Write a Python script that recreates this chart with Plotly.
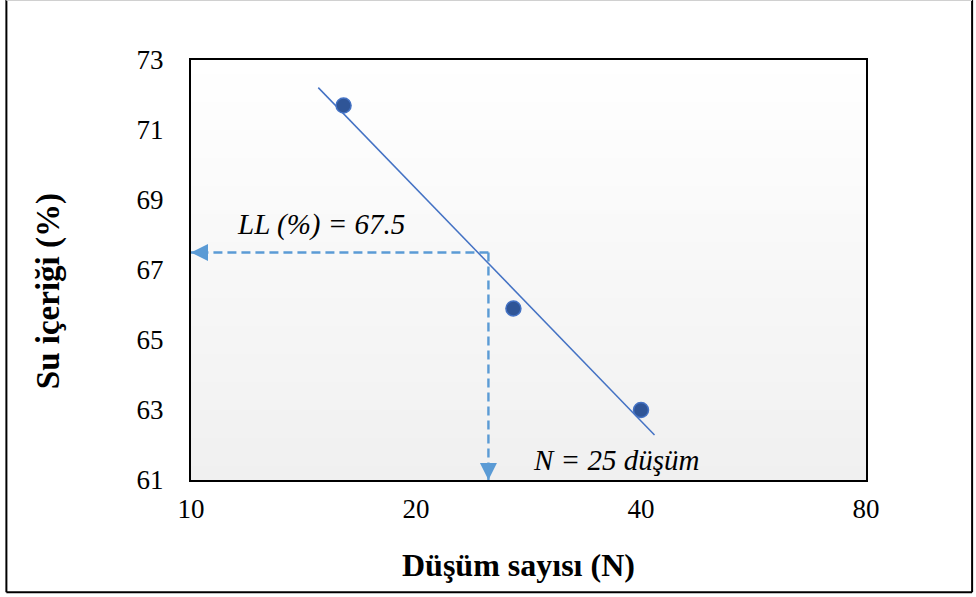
import numpy as np
import plotly.graph_objects as go

# Drop count (N) vs. water content (%) from the liquid limit test
drops = [16, 27, 40]
water_content = [71.7, 65.9, 63.0]

# Extent of the fitted (log-linear) trend line
trend_span = [14.8, 41.7]

# Liquid limit read at N = 25
ll_drops = 25
ll_value = 67.5

x_ticks = [10, 20, 40, 80]
y_ticks = [61, 63, 65, 67, 69, 71, 73]

serif = "Liberation Serif, Times New Roman, serif"
line_blue = "#4472c4"
dash_blue = "#5b9bd5"

# least-squares fit of water content against log10(N)
slope, intercept = np.polyfit(np.log10(drops), water_content, 1)
trend_x = np.array(trend_span)
trend_y = slope * np.log10(trend_x) + intercept

fig = go.Figure()

# dashed guide lines from the liquid limit point to the axes
fig.add_trace(go.Scatter(
    x=[ll_drops, x_ticks[0]], y=[ll_value, ll_value], mode="lines",
    line=dict(color=dash_blue, width=2.4, dash="9px,5px"), hoverinfo="skip",
    showlegend=False))
fig.add_trace(go.Scatter(
    x=[ll_drops, ll_drops], y=[ll_value, y_ticks[0]], mode="lines",
    line=dict(color=dash_blue, width=2.4, dash="9px,5px"), hoverinfo="skip",
    showlegend=False))

# trend line
fig.add_trace(go.Scatter(
    x=trend_x, y=trend_y, mode="lines",
    line=dict(color=line_blue, width=1.5), showlegend=False))

# measured points
fig.add_trace(go.Scatter(
    x=drops, y=water_content, mode="markers",
    marker=dict(size=15, color="#2f5597", line=dict(color=line_blue, width=1.5)),
    showlegend=False))

# soft vertical gradient behind the plot area
shapes = []
n_strips = 60
for i in range(n_strips):
    t = (i + 0.5) / n_strips
    g = int(round(240 + 15 * t))
    shapes.append(dict(
        type="rect", xref="x domain", yref="y domain",
        x0=0, x1=1, y0=i / n_strips, y1=(i + 1) / n_strips,
        fillcolor=f"rgb({g},{g},{g})", line=dict(width=0), layer="below"))

# outer chart frame
fx0, fx1, fy0, fy1 = -0.2735, 1.1572, -0.267, 1.143
for (x0, y0, x1, y1, c) in [
    (fx0, fy0, fx0, fy1, "black"),
    (fx1, fy0, fx1, fy1, "black"),
    (fx0, fy0, fx1, fy0, "black"),
    (fx0, fy1, fx1, fy1, "#d0d0d0"),
]:
    shapes.append(dict(type="line", xref="paper", yref="paper",
                       x0=x0, y0=y0, x1=x1, y1=y1,
                       line=dict(color=c, width=2)))

annotations = [
    # arrowheads at the axis ends of the guide lines
    dict(x=np.log10(x_ticks[0]), y=ll_value, xref="x", yref="y", text="",
         showarrow=True, ax=18, ay=0, arrowhead=2, arrowsize=1.7,
         arrowwidth=2, arrowcolor=dash_blue, standoff=0),
    dict(x=np.log10(ll_drops), y=y_ticks[0], xref="x", yref="y", text="",
         showarrow=True, ax=0, ay=-18, arrowhead=2, arrowsize=1.7,
         arrowwidth=2, arrowcolor=dash_blue, standoff=0),
    dict(x=1.1734, y=68.29, xref="x", yref="y", showarrow=False,
         xanchor="center", yanchor="middle",
         text=f"<i>LL (%) = {ll_value}</i>",
         font=dict(family=serif, size=29, color="black")),
    dict(x=1.5683, y=61.57, xref="x", yref="y", showarrow=False,
         xanchor="center", yanchor="middle",
         text=f"<i>N = {ll_drops} düşüm</i>",
         font=dict(family=serif, size=29, color="black")),
    # axis titles
    dict(x=0.4848, y=-0.2026, xref="paper", yref="paper", showarrow=False,
         xanchor="center", yanchor="middle",
         text="<b>Düşüm sayısı (N)</b>",
         font=dict(family=serif, size=32, color="black")),
    dict(x=-0.2113, y=0.4505, xref="paper", yref="paper", showarrow=False,
         xanchor="center", yanchor="middle",
         text="<b>Su içeriği (%)</b>", textangle=-90,
         font=dict(family=serif, size=33, color="black")),
]

fig.update_layout(
    width=976, height=597,
    margin=dict(l=191, r=110, t=60, b=117),
    paper_bgcolor="white", plot_bgcolor="white",
    shapes=shapes, annotations=annotations,
    font=dict(family=serif, size=27, color="black"),
    xaxis=dict(type="log", range=[np.log10(10), np.log10(80)],
               tickvals=x_ticks, ticktext=[str(v) for v in x_ticks],
               showgrid=False, zeroline=False, showline=True, mirror=True,
               linecolor="black", linewidth=2, ticks="", ticklabelstandoff=4),
    yaxis=dict(range=[y_ticks[0], y_ticks[-1]], tickvals=y_ticks,
               showgrid=False, zeroline=False, showline=True, mirror=True,
               linecolor="black", linewidth=2, ticks="", ticklabelstandoff=20),
)

fig.write_html("out.html")
